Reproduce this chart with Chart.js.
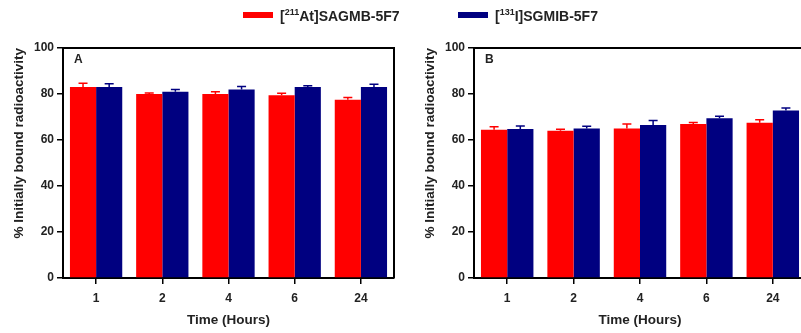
<!DOCTYPE html>
<html lang="en">
<head>
    <meta charset="UTF-8">
    <title>Bound radioactivity</title>
    <script src="https://cdn.jsdelivr.net/npm/chart.js"></script>
    <style>
        body {
            margin: 0;
            width: 801px;
            height: 333px;
            overflow: hidden;
            position: relative;
            background: #fff;
            font-family: "Liberation Sans", Arial, sans-serif;
        }
        .panel {
            position: absolute;
            top: 0;
            height: 333px;
        }
        .legend-item {
            position: absolute;
            top: 8px;
            font-weight: bold;
            font-size: 14px;
            line-height: 17px;
            color: #222;
            white-space: nowrap;
        }
        .legend-item span.box {
            display: inline-block;
            width: 30px;
            height: 6px;
            margin-right: 7px;
            vertical-align: 3px;
        }
        .legend-item sup {
            font-size: 9px;
            line-height: 0;
        }
    </style>
</head>
<body>
    <div class="panel" style="left:0;width:400px"><canvas id="chartA" width="400" height="333"></canvas></div>
    <div class="panel" style="left:411px;width:401px"><canvas id="chartB" width="401" height="333"></canvas></div>
    <div id="legend"></div>
    <script>
        // zaman noktalari (saat)
        const categories = ['1', '2', '4', '6', '24'];
        const yTicks = [0, 20, 40, 60, 80, 100];

        // Panel A
        const astatineA = [83, 80, 80, 79.5, 77.5];
        const astatineErrA = [1.7, 0.4, 1, 0.8, 1];
        const iodineA = [83, 81, 82, 83, 83];
        const iodineErrA = [1.5, 1, 1.3, 0.6, 1.2];

        // Panel B
        const astatineB = [64.5, 64, 65, 67, 67.5];
        const astatineErrB = [1.3, 0.7, 2, 0.6, 1.3];
        const iodineB = [64.8, 65, 66.5, 69.5, 72.8];
        const iodineErrB = [1.3, 1, 2, 0.8, 1.1];

        const seriesNames = ['[<sup>211</sup>At]SAGMB-5F7', '[<sup>131</sup>I]SGMIB-5F7'];
        const seriesColors = ['#ff0000', '#000080'];

        // legend (html, ust ortada)
        const legendLeft = [243, 458];
        document.getElementById('legend').innerHTML = seriesNames.map((name, i) =>
            '<div class="legend-item" style="left:' + legendLeft[i] + 'px"><span class="box" style="background:' + seriesColors[i] + '"></span>' + name + '</div>'
        ).join('');

        const tickFont = { family: '"Liberation Sans", Arial, sans-serif', size: 12, weight: 'bold' };
        const titleFont = { family: '"Liberation Sans", Arial, sans-serif', size: 13.5, weight: 'bold' };

        // hata cubuklari (sadece ust)
        const errorBars = {
            id: 'errorBars',
            afterDatasetsDraw(chart) {
                const ctx = chart.ctx;
                const yScale = chart.scales.y;
                chart.data.datasets.forEach((ds, di) => {
                    const meta = chart.getDatasetMeta(di);
                    meta.data.forEach((bar, i) => {
                        const top = yScale.getPixelForValue(ds.data[i] + ds.errors[i]);
                        ctx.save();
                        ctx.strokeStyle = ds.backgroundColor;
                        ctx.lineWidth = 1.5;
                        ctx.beginPath();
                        ctx.moveTo(bar.x, bar.y);
                        ctx.lineTo(bar.x, top);
                        ctx.moveTo(bar.x - 4.5, top);
                        ctx.lineTo(bar.x + 4.5, top);
                        ctx.stroke();
                        ctx.restore();
                    });
                });
            }
        };

        // cerceve + panel harfi
        const frame = {
            id: 'frame',
            afterDraw(chart, args, opts) {
                const a = chart.chartArea;
                const ctx = chart.ctx;
                ctx.save();
                ctx.strokeStyle = '#000';
                ctx.lineWidth = 2;
                ctx.beginPath();
                ctx.moveTo(a.left, a.top);
                ctx.lineTo(a.right, a.top);
                ctx.lineTo(a.right, a.bottom);
                ctx.stroke();
                ctx.fillStyle = '#222';
                ctx.font = 'bold 12px "Liberation Sans", Arial, sans-serif';
                ctx.textBaseline = 'middle';
                ctx.fillText(opts.label, a.left + 11, a.top + 12);
                ctx.restore();
            }
        };

        function makeChart(id, label, red, redErr, blue, blueErr) {
            return new Chart(document.getElementById(id), {
                type: 'bar',
                data: {
                    labels: categories,
                    datasets: [
                        { label: 'At', data: red, errors: redErr, backgroundColor: seriesColors[0] },
                        { label: 'I', data: blue, errors: blueErr, backgroundColor: seriesColors[1] }
                    ]
                },
                options: {
                    responsive: false,
                    animation: false,
                    datasets: { bar: { categoryPercentage: 0.79, barPercentage: 1.0 } },
                    layout: { padding: { left: 0, right: 6, top: 48, bottom: 0 } },
                    plugins: {
                        legend: { display: false },
                        tooltip: { enabled: false },
                        frame: { label: label }
                    },
                    scales: {
                        x: {
                            afterFit: s => { s.height = 55; },
                            grid: { offset: false, drawOnChartArea: false, color: '#000', lineWidth: 1.5, tickLength: 6 },
                            border: { color: '#000', width: 2 },
                            ticks: { color: '#222', font: tickFont, padding: 7 },
                            title: { display: true, text: 'Time (Hours)', color: '#222', font: titleFont, padding: { top: 4, bottom: 5 } }
                        },
                        y: {
                            min: 0,
                            max: 100,
                            afterFit: s => { s.width = 63; },
                            afterBuildTicks: s => { s.ticks = yTicks.map(v => ({ value: v })); },
                            grid: { drawOnChartArea: false, color: '#000', lineWidth: 1.5, tickLength: 6 },
                            border: { color: '#000', width: 2 },
                            ticks: { color: '#222', font: tickFont, padding: 3 },
                            title: { display: true, text: '% Initially bound radioactivity', align: 'end', color: '#222', font: titleFont, padding: { top: 11, bottom: 0 } }
                        }
                    }
                },
                plugins: [errorBars, frame]
            });
        }

        makeChart('chartA', 'A', astatineA, astatineErrA, iodineA, iodineErrA);
        makeChart('chartB', 'B', astatineB, astatineErrB, iodineB, iodineErrB);
    </script>
</body>
</html>
